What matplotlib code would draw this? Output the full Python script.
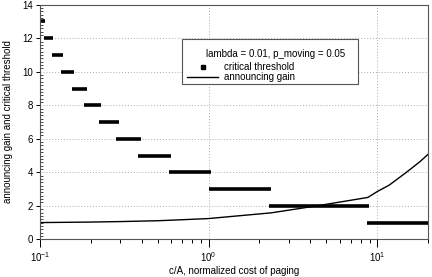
import matplotlib
matplotlib.use("Agg")
import matplotlib.pyplot as plt
from matplotlib.patches import Rectangle
from matplotlib.ticker import LogLocator, MultipleLocator

plt.rcParams['font.family'] = ['Liberation Sans', 'DejaVu Sans']
plt.rcParams['mathtext.fontset'] = 'custom'
plt.rcParams['mathtext.rm'] = 'Liberation Sans'
plt.rcParams['mathtext.it'] = 'Liberation Sans'

# critical threshold: level and the c/A interval where it applies
thr_levels = [13, 12, 11, 10, 9, 8, 7, 6, 5, 4, 3, 2, 1]
thr_start = [0.100, 0.105, 0.117, 0.133, 0.154, 0.183, 0.223, 0.282, 0.383, 0.581, 1.00, 2.27, 8.7]
thr_end = [0.107, 0.120, 0.137, 0.159, 0.189, 0.230, 0.293, 0.396, 0.598, 1.035, 2.35, 8.9, 20.0]

# announcing gain curve
gain_x = [0.1, 0.2, 0.3, 0.5, 0.7, 1.0, 2.35, 4.4, 8.8, 10.0, 11.8, 14.9, 17.9, 20.0]
gain_y = [1.0, 1.03, 1.06, 1.11, 1.17, 1.24, 1.58, 2.0, 2.5, 2.85, 3.24, 4.0, 4.63, 5.07]

legend_title = 'lambda = 0.01, p_moving = 0.05'
legend_labels = ['critical threshold', 'announcing gain']

FS = 7

fig = plt.figure(figsize=(4.32, 2.77), dpi=100)
ax = fig.add_axes([0.0926, 0.136, 0.8981, 0.847])

for lv, x0, x1 in zip(thr_levels, thr_start, thr_end):
    ax.plot([x0, x1], [lv, lv], color='black', lw=2.6, solid_capstyle='butt')
ax.plot(gain_x, gain_y, color='black', lw=1.0)

ax.set_xscale('log')
ax.set_xlim(0.1, 20)
ax.set_ylim(0, 14)
ax.yaxis.set_major_locator(MultipleLocator(2))
ax.yaxis.set_minor_locator(MultipleLocator(0.2))
ax.xaxis.set_major_locator(LogLocator(base=10))
ax.xaxis.set_minor_locator(LogLocator(base=10, subs=range(2, 10)))

ax.grid(True, which='major', linestyle=(0, (1, 2)), color='#aaaaaa', lw=0.7)
ax.tick_params(axis='both', which='major', labelsize=FS, direction='out', length=3, width=0.7, pad=2)
ax.tick_params(axis='x', which='major', length=6)
ax.tick_params(axis='x', which='minor', direction='out', length=3, width=0.7)
ax.tick_params(axis='y', which='minor', direction='in', length=2, width=0.5)
for s in ax.spines.values():
    s.set_linewidth(0.8)
    s.set_color('#555555')

ax.set_xlabel('c/A, normalized cost of paging', fontsize=FS, labelpad=1)
ax.set_ylabel('announcing gain and critical threshold', fontsize=FS, labelpad=7)

# legend box drawn in axes coordinates
T = ax.transAxes
ax.add_patch(Rectangle((0.366, 0.662), 0.454, 0.192, transform=T, facecolor='white',
                       edgecolor='#555555', lw=0.8, zorder=5))
ax.text(0.606, 0.790, legend_title, transform=T, ha='center', va='center', fontsize=FS, zorder=6)
ax.plot([0.421], [0.735], transform=T, marker='s', markersize=2.2, color='black', lw=0, zorder=6)
ax.plot([0.379, 0.459], [0.692, 0.692], transform=T, color='black', lw=1.0, zorder=6)
ax.text(0.473, 0.735, legend_labels[0], transform=T, ha='left', va='center', fontsize=FS, zorder=6)
ax.text(0.473, 0.692, legend_labels[1], transform=T, ha='left', va='center', fontsize=FS, zorder=6)

fig.savefig('out.png', dpi=100)
